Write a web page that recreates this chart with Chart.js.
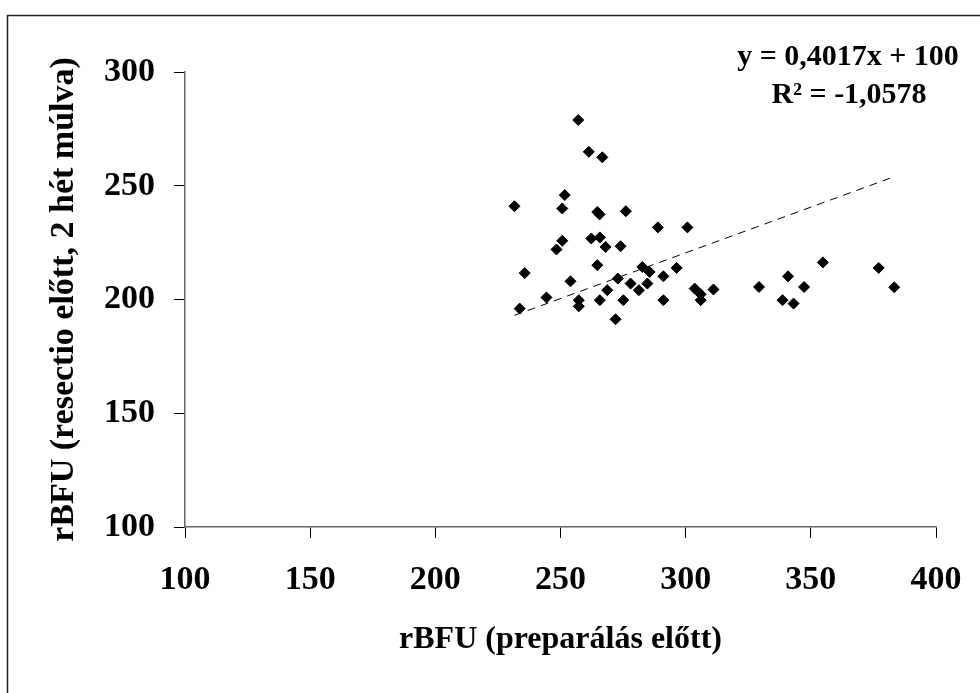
<!DOCTYPE html>
<html>
<head>
<meta charset="utf-8">
<script src="https://cdn.jsdelivr.net/npm/chart.js@4/dist/chart.umd.min.js"></script>
<style>
html,body{margin:0;padding:0;background:#fff;}
#wrap{width:980px;height:693px;position:relative;}
</style>
</head>
<body>
<div id="wrap"><canvas id="c" width="980" height="693"></canvas></div>
<script>
// rBFU before preparation (x) and 2 weeks after resection (y)
const xValues = [257.1,261.3,266.7,251.7,231.6,250.7,264.7,265.6,276.1,288.9,300.7,250.7,248.4,262.3,265.7,268.0,274.0,264.7,235.7,254.0,282.7,285.6,284.7,278.0,281.3,291.1,296.4,272.9,268.7,244.4,257.3,257.3,265.7,275.1,291.1,303.6,306.0,306.0,311.1,233.7,272.0,329.3,340.9,338.7,343.1,347.3,354.8,377.1,383.3];
const yValues = [278.9,264.9,262.5,245.9,241.0,240.0,238.5,237.4,238.8,231.7,231.7,225.8,222.0,226.8,227.3,223.1,223.4,215.1,211.6,208.0,214.3,212.1,207.0,207.0,204.1,210.2,213.9,209.2,204.1,200.9,199.7,197.0,199.7,199.7,199.7,204.8,202.3,199.7,204.4,196.0,191.3,205.5,210.2,199.7,198.2,205.5,216.3,213.9,205.4];
const xTicks = [100,150,200,250,300,350,400];
const yTicks = [100,150,200,250,300];
const trendSlope = 0.4017;
const trendIntercept = 100;
const equationLines = ['y = 0,4017x + 100', 'R\u00B2 = -1,0578'];
const xTitle = 'rBFU (preparálás előtt)';
const yTitle = 'rBFU (resectio előtt, 2 hét múlva)';

const points = xValues.map((x,i)=>({x:x,y:yValues[i]}));
const xMin = Math.min(...xValues), xMax = Math.max(...xValues);
const trend = [xMin,xMax].map(x=>({x:x,y:trendSlope*x+trendIntercept}));

const FONT = "'Liberation Serif','Times New Roman',serif";

const frame = {
  id:'frame',
  beforeDraw(chart){
    const ctx = chart.ctx;
    ctx.save();
    ctx.fillStyle='#fff';
    ctx.fillRect(0,0,chart.width,chart.height);
    ctx.restore();
  },
  afterDraw(chart){
    const ctx = chart.ctx;
    ctx.save();
    ctx.strokeStyle='#222';
    ctx.lineWidth=1.5;
    ctx.beginPath();
    ctx.moveTo(7.5,chart.height);
    ctx.lineTo(7.5,15.5);
    ctx.lineTo(chart.width,15.5);
    ctx.stroke();
    ctx.fillStyle='#000';
    ctx.font = 'bold 30px ' + FONT;
    ctx.textAlign='center';
    ctx.textBaseline='alphabetic';
    ctx.fillText(equationLines[0], 848, 65);
    ctx.fillText(equationLines[1], 849, 103);
    ctx.restore();
  }
};

new Chart(document.getElementById('c'),{
  type:'scatter',
  data:{
    datasets:[
      {
        type:'scatter',
        data:points,
        pointStyle:'rectRot',
        pointRadius:5.5,
        pointBackgroundColor:'#000',
        pointBorderColor:'#000',
        pointBorderWidth:1,
        order:1
      },
      {
        type:'line',
        data:trend,
        borderColor:'#000',
        borderWidth:1,
        borderDash:[8,6],
        pointRadius:0,
        fill:false,
        order:2
      }
    ]
  },
  options:{
    responsive:false,
    animation:false,
    devicePixelRatio:1,
    layout:{padding:{top:72,right:44,left:0,bottom:0}},
    plugins:{legend:{display:false},tooltip:{enabled:false}},
    scales:{
      x:{
        type:'linear',
        min:100,max:400,
        afterBuildTicks(s){ s.ticks = xTicks.map(v=>({value:v})); },
        afterFit(s){ s.height = 166; s.paddingLeft = 0; s.paddingRight = 0; },
        grid:{drawOnChartArea:false,drawTicks:true,tickLength:11,color:'#000',tickWidth:1},
        border:{display:true,color:'#666',width:1.5},
        ticks:{color:'#000',padding:22,font:{family:FONT,size:34,weight:'bold'}},
        title:{display:true,text:xTitle,color:'#000',font:{family:FONT,size:32,weight:'bold'},padding:{top:0,bottom:34}}
      },
      y:{
        type:'linear',
        min:100,max:300,
        afterBuildTicks(s){ s.ticks = yTicks.map(v=>({value:v})); },
        afterFit(s){ s.width = 185; s.paddingTop = 0; s.paddingBottom = 0; },
        grid:{drawOnChartArea:false,drawTicks:true,tickLength:11,color:'#000',tickWidth:1},
        border:{display:true,color:'#666',width:1.5},
        ticks:{color:'#000',padding:19,font:{family:FONT,size:34,weight:'bold'}},
        title:{display:true,text:yTitle,color:'#000',font:{family:FONT,size:34,weight:'bold'},padding:{top:44,bottom:0}}
      }
    }
  },
  plugins:[frame]
});
</script>
</body>
</html>
